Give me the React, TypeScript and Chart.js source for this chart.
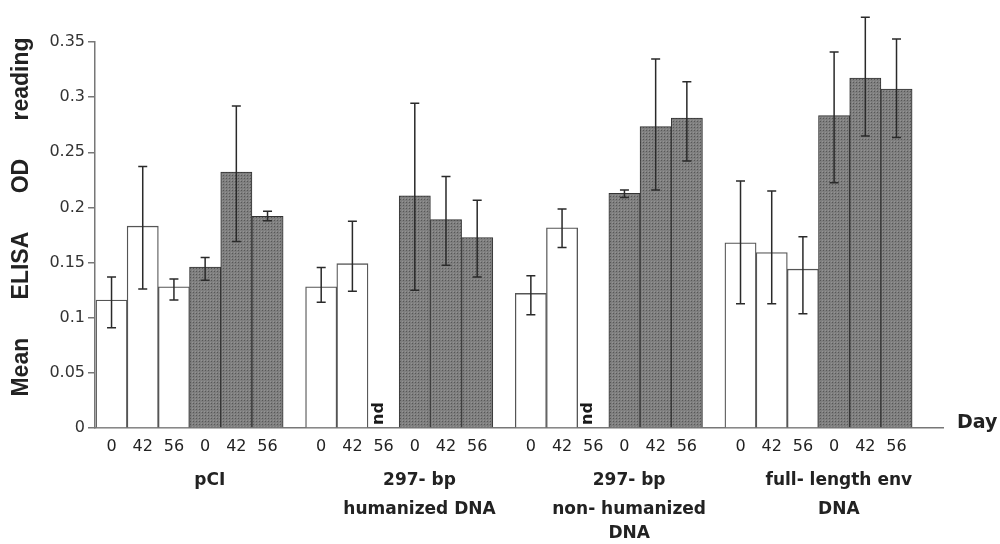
import React, { useEffect, useRef } from "react";
import { Chart, registerables } from "chart.js";

Chart.register(...registerables);

// ---- data ----
const GROUP_LABELS: string[][] = [
  ["pCI"],
  ["297- bp", "humanized DNA"],
  ["297- bp", "non- humanized", "DNA"],
  ["full- length env", "DNA"],
];
const DAYS = ["0", "42", "56"];
// open (white) bars: [group][day]
const OPEN_MEAN: (number | null)[][] = [
  [0.116, 0.183, 0.128],
  [0.128, 0.149, null],
  [0.122, 0.1815, null],
  [0.168, 0.159, 0.144],
];
const OPEN_HIGH: (number | null)[][] = [
  [0.137, 0.237, 0.135],
  [0.1455, 0.1875, null],
  [0.138, 0.1985, null],
  [0.224, 0.2148, 0.1733],
];
const OPEN_LOW: (number | null)[][] = [
  [0.091, 0.126, 0.116],
  [0.114, 0.124, null],
  [0.1027, 0.1636, null],
  [0.1127, 0.1127, 0.1036],
];
// shaded (grey) bars: [group][day]
const SHADED_MEAN: number[][] = [
  [0.146, 0.232, 0.192],
  [0.2106, 0.189, 0.1727],
  [0.2127, 0.2733, 0.281],
  [0.2833, 0.3173, 0.3073],
];
const SHADED_HIGH: number[][] = [
  [0.1545, 0.292, 0.1966],
  [0.2945, 0.228, 0.2066],
  [0.2157, 0.3345, 0.314],
  [0.341, 0.3725, 0.3527],
];
const SHADED_LOW: number[][] = [
  [0.134, 0.169, 0.188],
  [0.125, 0.1475, 0.137],
  [0.209, 0.2157, 0.242],
  [0.2224, 0.2648, 0.2633],
];
const Y_TICKS = [0, 0.05, 0.1, 0.15, 0.2, 0.25, 0.3, 0.35];
const Y_TICK_LABELS = ["0", "0.05", "0.1", "0.15", "0.2", "0.25", "0.3", "0.35"];
const NOT_DONE = "nd";
const X_TITLE = "Day";
const Y_TITLE = "Mean      ELISA      OD      reading";

// ---- layout helpers (positions on the linear x scale, one unit = one bar) ----
const PITCH = 6.72;
const X_MIN = -0.03;
const X_MAX = 27.15;
const slotX = (g: number, s: number) => g * PITCH + s + 0.5;

const TICK_POS: number[] = [];
const TICK_TXT: string[] = [];
GROUP_LABELS.forEach((_, g) => {
  for (let s = 0; s < 6; s++) {
    TICK_POS.push(slotX(g, s));
    TICK_TXT.push(DAYS[s % 3]);
  }
});

type Pt = { x: number; y: number; hi: number; lo: number };
const openPts: Pt[] = [];
const shadedPts: Pt[] = [];
const ndPos: number[] = [];
GROUP_LABELS.forEach((_, g) => {
  DAYS.forEach((_, d) => {
    const m = OPEN_MEAN[g][d];
    if (m === null) ndPos.push(slotX(g, d));
    else openPts.push({ x: slotX(g, d), y: m, hi: OPEN_HIGH[g][d] as number, lo: OPEN_LOW[g][d] as number });
    shadedPts.push({ x: slotX(g, d + 3), y: SHADED_MEAN[g][d], hi: SHADED_HIGH[g][d], lo: SHADED_LOW[g][d] });
  });
});

const SANS = "'DejaVu Sans', sans-serif";

export default function App() {
  const ref = useRef<HTMLCanvasElement | null>(null);

  useEffect(() => {
    const canvas = ref.current;
    if (!canvas) return;
    const ctx = canvas.getContext("2d")!;

    const pc = document.createElement("canvas");
    pc.width = 3;
    pc.height = 3;
    const p = pc.getContext("2d")!;
    p.fillStyle = "#7f7f7f";
    p.fillRect(0, 0, 3, 3);
    p.fillStyle = "#575757";
    p.fillRect(1, 1, 1, 1);
    p.fillStyle = "#939393";
    p.fillRect(0, 0, 1, 1);
    const pattern = ctx.createPattern(pc, "repeat") || "#787878";

    const overlay = {
      id: "overlay",
      afterDatasetsDraw(chart: any) {
        const c = chart.ctx;
        const xs = chart.scales.x;
        const ys = chart.scales.y;
        c.save();
        c.strokeStyle = "#2a2a2a";
        c.lineWidth = 1.5;
        [...openPts, ...shadedPts].forEach((pt) => {
          const x = xs.getPixelForValue(pt.x);
          const yh = ys.getPixelForValue(pt.hi);
          const yl = ys.getPixelForValue(pt.lo);
          c.beginPath();
          c.moveTo(x, yh);
          c.lineTo(x, yl);
          c.moveTo(x - 4.5, yh);
          c.lineTo(x + 4.5, yh);
          c.moveTo(x - 4.5, yl);
          c.lineTo(x + 4.5, yl);
          c.stroke();
        });
        // nd labels
        c.fillStyle = "#1a1a1a";
        c.font = `bold 16px ${SANS}`;
        ndPos.forEach((v) => {
          const x = xs.getPixelForValue(v) - 5;
          c.save();
          c.translate(x, ys.getPixelForValue(0) - 3);
          c.rotate(-Math.PI / 2);
          c.textAlign = "left";
          c.textBaseline = "middle";
          c.fillText(NOT_DONE, 0, 0);
          c.restore();
        });
        c.restore();
      },
      afterDraw(chart: any) {
        const c = chart.ctx;
        const xs = chart.scales.x;
        const ys = chart.scales.y;
        c.save();
        c.fillStyle = "#222";
        c.textAlign = "center";
        c.textBaseline = "middle";
        c.font = `bold 17px ${SANS}`;
        const lineY = [481, 510, 534];
        GROUP_LABELS.forEach((lines, g) => {
          const cx = xs.getPixelForValue(g * PITCH + 3.65);
          lines.forEach((t, i) => c.fillText(t, cx, lineY[i]));
        });
        // x title
        c.font = `bold 19px ${SANS}`;
        c.textAlign = "left";
        c.fillText(X_TITLE, xs.right + 14, ys.getPixelForValue(0) - 5);
        // y title
        c.font = "bold 23px 'Liberation Sans', Arial, sans-serif";
        c.translate(22, 217);
        c.rotate(-Math.PI / 2);
        c.textAlign = "center";
        c.fillText(Y_TITLE, 0, 0);
        c.restore();
      },
    };

    const chart = new Chart(canvas, {
      type: "bar",
      data: {
        datasets: [
          {
            data: openPts as any,
            backgroundColor: "#ffffff",
            borderColor: "#555555",
            borderWidth: 1.3,
            grouped: false,
            barPercentage: 1,
            categoryPercentage: 1,
          } as any,
          {
            data: shadedPts as any,
            backgroundColor: pattern as any,
            borderColor: "#333333",
            borderWidth: 1,
            grouped: false,
            barPercentage: 1,
            categoryPercentage: 1,
          } as any,
        ],
      },
      options: {
        responsive: false,
        animation: false,
        layout: { padding: { top: 42, right: 57, left: 0, bottom: 0 } },
        plugins: { legend: { display: false }, tooltip: { enabled: false } },
        scales: {
          x: {
            type: "linear",
            min: X_MIN,
            max: X_MAX,
            offset: false,
            grid: { display: false, drawTicks: false, offset: false },
            border: { display: true, color: "#777", width: 1.5 },
            afterBuildTicks: (scale: any) => {
              scale.ticks = TICK_POS.map((v) => ({ value: v }));
            },
            afterFit: (scale: any) => {
              scale.height = 116;
            },
            ticks: {
              autoSkip: false,
              maxRotation: 0,
              minRotation: 0,
              padding: 9,
              color: "#222",
              font: { family: SANS, size: 16 },
              callback: (_v: any, i: number) => TICK_TXT[i],
            },
          } as any,
          y: {
            min: 0,
            max: 0.35,
            grid: { drawOnChartArea: false, drawTicks: true, tickLength: 7, color: "#777", lineWidth: 1.5 },
            border: { display: true, color: "#777", width: 1.5 },
            afterBuildTicks: (scale: any) => {
              scale.ticks = Y_TICKS.map((v) => ({ value: v }));
            },
            afterFit: (scale: any) => {
              scale.width = 95;
            },
            ticks: {
              padding: 3,
              color: "#333",
              font: { family: SANS, size: 16 },
              callback: (_v: any, i: number) => Y_TICK_LABELS[i],
            },
          } as any,
        },
      },
      plugins: [overlay],
    });

    return () => chart.destroy();
  }, []);

  return (
    <div style={{ position: "absolute", left: 0, top: 0, width: 1000, height: 544, background: "#fff" }}>
      <canvas ref={ref} width={1000} height={544} style={{ display: "block" }} />
    </div>
  );
}
